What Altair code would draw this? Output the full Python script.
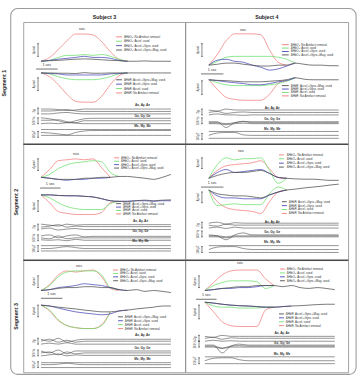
import altair as alt
import pandas as pd

FONT = "Liberation Sans"
N = None

# time grid (seconds)
T = [0.0, 0.4, 0.8, 1.2, 1.6, 2.0, 2.4, 2.8, 3.2, 3.6, 4.0, 4.4, 4.8, 5.2, 5.6, 6.0]

SUBJECTS = ["Subject 3", "Subject 4"]
SEGMENTS = ["Segment 1", "Segment 2", "Segment 3"]
METHODS = ["No Artefact removal", "Accel. used", "Accel.+Gyro. used", "Accel.+Gyro.+Mag. used"]
COLORS = ["#f47878", "#6ade6a", "#4444b8", "#4a4a4a"]
O2_LEG = ["ΔHbO₂: No Artefact removal", "ΔHbO₂: Accel. used",
          "ΔHbO₂: Accel.+Gyro. used", "ΔHbO₂: Accel.+Gyro.+Mag. used"]
HR_LEG = ["ΔHbR: Accel.+Gyro.+Mag. used", "ΔHbR: Accel.+Gyro. used",
          "ΔHbR: Accel. used", "ΔHbR: No Artefact removal"]
HR_LEG_COLOR = [3, 2, 1, 0]
SENSOR_LABELS = ["Ax, Ay, Az", "Gx, Gy, Gz", "Mx, My, Mz"]
SENSOR_UNITS = ["2g", "500°/s", "100µT"]

# ---- ΔHbO2 / ΔHbR (µmol), order: no removal, accel, accel+gyro, accel+gyro+mag
S3_SEG1_HBO2 = [
    [0, 1.3, 4.0, 7.0, 9.3, 9.3, 9.0, 6.7, 3.3, 0.7, 0, N, N, N, N, N],
    [0, 0.3, 1.3, 2.0, 2.0, 2.3, 2.0, 2.3, 1.7, 0.7, 0, N, N, N, N, N],
    [0, 0.3, 0.7, 1.0, 1.3, 1.7, 1.3, 1.3, 1.0, 0.3, 0, N, N, N, N, N],
    [0, 0.2, 0.3, 0.5, 0.7, 0.8, 0.7, 0.5, 0.3, 0.2, 0, 0, 0.1, 0, 0, 0],
]
S3_SEG1_HBR = [
    [0, -1.3, -4.0, -7.3, -9.7, -10.0, -10.0, -8.0, -4.0, -1.0, 0, N, N, N, N, N],
    [0, -0.3, -1.3, -2.0, -2.3, -2.3, -2.3, -2.0, -1.3, -0.3, 0, N, N, N, N, N],
    [0, -0.2, -0.3, -0.7, -0.7, -0.7, -0.7, -0.7, -0.3, -0.2, 0, N, N, N, N, N],
    [0, 0, -0.1, -0.1, -0.2, 0.1, -0.1, -0.1, 0, 0, 0, 0, 0, 0, 0, 0],
]
S4_SEG1_HBO2 = [
    [0, 3.7, 8.3, 10.7, 10.7, 10.7, 10.4, 5.3, 1.0, 0, N, N, N, N, N, N],
    [0, 1.3, 2.7, 3.0, 3.0, 3.0, 3.0, 3.0, 2.7, 2.0, 0.7, N, N, N, N, N],
    [0, 1.7, 2.0, 1.3, 1.0, 0, -0.7, -1.7, -1.3, -0.3, 0.7, N, N, N, N, N],
    [0, 0.3, 0.7, 0.7, 0.3, 0, -0.3, -0.3, 0, 0, 0.7, 0.3, 0, 0, -0.2, -0.2],
]
S4_SEG1_HBR = [
    [0, -3.3, -6.0, -6.7, -7.0, -7.0, -7.0, -5.0, -1.3, 0, N, N, N, N, N, N],
    [0, -1.0, -1.7, -2.0, -2.0, -2.0, -2.0, -1.7, -1.3, -0.5, 0.7, N, N, N, N, N],
    [0, -0.3, -0.7, -1.0, -1.3, -1.7, -1.7, -1.3, -0.7, -0.3, 0.7, N, N, N, N, N],
    [0, -0.2, -0.3, -0.5, -0.7, -0.7, -0.7, -0.5, -0.3, 0, 0.7, 0.2, 0, 0, 0, 0],
]
S3_SEG2_HBO2 = [
    [0, 2.7, 5.7, 6.0, 6.3, 6.0, 6.3, 3.3, 0, N, N, N, N, N, N, N],
    [0, 1.0, 3.0, 4.3, 5.0, 5.3, 5.7, 5.3, 1.7, 0.3, N, N, N, N, N, N],
    [0, -0.3, -0.7, -1.0, -0.7, -0.7, -0.3, -0.3, 0, N, N, N, N, N, N, N],
    [0, -0.3, -0.7, -0.7, -0.7, -0.3, -0.3, 0, 0, 0.3, 0.3, 0, -0.3, -0.7, 0, 1.0],
]
S3_SEG2_HBR = [
    [0, -2.7, -5.7, -6.3, -6.7, -6.7, -6.7, -6.0, -2.7, -2.2, N, N, N, N, N, N],
    [0, -1.0, -2.7, -4.0, -4.7, -5.0, -5.0, -5.0, -3.0, -2.2, N, N, N, N, N, N],
    [0, 0, -0.2, -0.3, -0.3, -0.5, -0.7, -1.3, -2.0, -2.2, -2.2, -2.0, -2.0, -2.2, -2.0, -2.0],
    [0, 0, -0.2, -0.3, -0.3, -0.5, -0.7, -1.3, -2.0, -2.2, -2.2, -2.0, -1.8, -2.0, -1.8, -1.7],
]
S4_SEG2_HBO2 = [
    [0, 2.7, 4.3, 4.7, 5.0, 5.3, 6.0, 3.3, 0.3, 0, N, N, N, N, N, N],
    [0, 4.7, 7.0, 6.3, 6.7, 6.7, 7.0, 2.7, -1.7, 0, N, N, N, N, N, N],
    [0, 2.0, 3.0, 2.0, 2.3, 2.7, 3.0, 1.7, 0.3, 0, N, N, N, N, N, N],
    [0, 1.0, 1.7, 2.0, 2.0, 2.3, 2.7, 1.7, 0.3, 0, -0.2, -0.3, -0.3, -0.5, -0.7, -0.7],
]
S4_SEG2_HBR = [
    [0, -4.0, -6.0, -6.7, -7.0, -7.3, -8.0, -4.0, -0.7, 0, N, N, N, N, N, N],
    [0, -5.3, -5.0, -4.7, -5.0, -5.0, -5.0, -1.3, 1.0, 0, N, N, N, N, N, N],
    [0, -2.0, -2.7, -2.7, -3.0, -3.0, -3.0, -1.7, -0.7, 0, N, N, N, N, N, N],
    [0, -1.3, -1.7, -2.0, -2.0, -2.3, -2.7, -1.7, -0.7, 0, 0.3, 0.7, 1.0, 1.3, 1.7, 2.0],
]
S3_SEG3_HBO2 = [
    [0, 2.0, 5.3, 6.7, 6.3, 6.7, 7.0, 4.7, 0.7, 0, N, N, N, N, N, N],
    [0, 1.7, 4.7, 6.3, 6.7, 6.7, 6.7, 5.3, 1.0, 0.3, N, N, N, N, N, N],
    [0, 0.3, 1.0, 1.3, 1.7, 2.3, 2.0, 1.7, 1.0, 0.3, 0, N, N, N, N, N],
    [0, 0.3, 0.7, 1.0, 1.0, 1.3, 1.3, 1.0, 1.0, 0.3, 0, 0.3, -0.3, 0, -0.3, -0.7],
]
S3_SEG3_HBR = [
    [0, -2.0, -5.3, -7.0, -7.7, -8.0, -8.0, -6.7, -2.3, N, N, N, N, N, N, N],
    [0, -1.7, -5.0, -7.0, -7.7, -8.0, -8.0, -7.0, -2.5, N, N, N, N, N, N, N],
    [0, -0.3, -1.0, -1.7, -2.3, -2.7, -3.0, -3.3, -3.0, -2.0, -1.7, N, N, N, N, N],
    [0, -0.3, -0.7, -1.0, -1.3, -1.7, -2.0, -2.3, -2.3, -2.0, -1.7, -1.3, -1.0, -0.7, -0.3, -0.3],
]
S4_SEG3_HBO2 = [
    [0, 2.7, 5.3, 6.7, 7.0, 7.0, 7.0, 4.0, 1.7, N, N, N, N, N, N, N],
    [0, 1.7, 2.7, 3.3, 3.3, 3.3, 3.0, 0.7, 1.7, N, N, N, N, N, N, N],
    [0, 0.3, 0.7, 0.7, 1.0, 1.0, 1.3, 1.7, 1.7, N, N, N, N, N, N, N],
    [0, 0.3, 0.7, 1.0, 1.3, 1.3, 1.7, 1.7, 1.7, 1.3, 1.7, 1.0, 0.7, 1.0, 0.7, 0.3],
]
S4_SEG3_HBR = [
    [0, -3.3, -6.7, -8.0, -8.3, -8.3, -8.3, -2.7, -1.7, N, N, N, N, N, N, N],
    [0, -1.3, -1.7, -1.7, -2.0, -2.0, -2.0, -1.7, -1.7, N, N, N, N, N, N, N],
    [0, -0.3, -0.7, -1.0, -1.2, -1.3, -1.5, -1.7, -1.7, -1.5, -1.3, N, N, N, N, N],
    [0, -0.3, -0.7, -1.0, -1.2, -1.3, -1.5, -1.7, -1.7, -1.5, -1.3, -1.2, -1.0, -0.8, -0.7, -0.7],
]

# ---- motion sensors (arbitrary units), three axes each
S3_SEG1_ACC = [
    [5, 5, 4.5, 3.5, 4, 5, 5, 5, 5, 5, 5, 5, 5, 5, 5, 5],
    [3, 3, 3.5, 4.5, 3, 2.5, 2.5, 2.5, 2.5, 2.5, 2.5, 2.5, 2.5, 2.5, 2.5, 2.5],
    [0, 0, 1, 1.5, 0.5, 0, 0, 0, 0, 0, 0, 0, 0, 0, 0, 0],
]
S3_SEG1_GYR = [
    [6, 5, 3, 1, 3, 5, 5.5, 5.5, 5.5, 5.5, 5.5, 5.5, 5.5, 5.5, 5.5, 5.5],
    [3.5, 3.5, 4, 2, 1, 3, 3, 3, 3, 3, 3, 3, 3, 3, 3, 3],
    [0, 0.5, 0, 1, 0.5, 0, 0, 0, 0, 0, 0, 0, 0, 0, 0, 0],
]
S3_SEG1_MAG = [
    [8, 8, 8, 8, 8, 8, 8, 8, 8, 8, 8, 8, 8, 8, 8, 8],
    [5, 4.5, 3.5, 2.5, 5, 6.5, 7, 7, 7, 7, 7, 7, 7, 7, 7, 7],
    [2, 2, 2, 2, 2, 2, 2, 2, 2, 2, 2, 2, 2, 2, 2, 2],
]
S4_SEG1_ACC = [
    [5, 4, 6, 5, 5, 5, 5, 5, 5, 5, 5, 5, 5, 5, 5, 5],
    [2.5, 3.5, 1.5, 2.5, 3, 2.5, 2.5, 2.5, 2.5, 2.5, 2.5, 2.5, 2.5, 2.5, 2.5, 2.5],
    [0, 1, 0, 0, -0.5, 0, 0, 0, 0, 0, 0, 0, 0, 0, 0, 0],
]
S4_SEG1_GYR = [
    [2, 2, -4, 1, 2, 2, 2, 2, 2, 2, 2, 2, 2, 2, 2, 2],
    [1, 1, 0, 1, 2.5, 1, 1, 1, 1, 1, 1, 1, 1, 1, 1, 1],
    [0, 0, -1, 0, 0.5, 0, 0, 0, 0, 0, 0, 0, 0, 0, 0, 0],
]
S4_SEG1_MAG = [
    [8, 8, 8, 8, 8, 8, 8, 8, 8, 8, 8, 8, 8, 8, 8, 8],
    [4, 6.5, 7, 7, 4.5, 4, 4, 4, 4, 4, 4, 4, 4, 4, 4, 4],
    [1, 1, 1, 1, 1, 1, 1, 1, 1, 1, 1, 1, 1, 1, 1, 1],
]
S3_SEG2_ACC = [
    [6, 5, 4, 6, 5, 5.5, 5.5, 5.5, 5.5, 5.5, 5.5, 5.5, 5.5, 5.5, 5.5, 5.5],
    [3, 4, 5.5, 3, 4, 3.5, 3.5, 3.5, 3.5, 3.5, 3.5, 3.5, 3.5, 3.5, 3.5, 3.5],
    [1, 2, 0, 1, 1.5, 0.5, 0.5, 0.5, 0.5, 0.5, 0.5, 0.5, 0.5, 0.5, 0.5, 0.5],
]
S3_SEG2_GYR = [
    [5, 6, 3, 5, 6, 4, 4.5, 4.5, 4.5, 4.5, 4.5, 4.5, 4.5, 4.5, 4.5, 4.5],
    [3, 2, 5, 2, 3, 3, 3, 3, 3, 3, 3, 3, 3, 3, 3, 3],
    [1, 0.5, 1, 0, 1.5, 0.5, 0.5, 0.5, 0.5, 0.5, 0.5, 0.5, 0.5, 0.5, 0.5, 0.5],
]
S3_SEG2_MAG = [
    [6, 6, 6, 6, 6, 6, 6, 6, 6, 6, 6, 6, 6, 6, 6, 6],
    [3, 3, 4, 5, 4, 3, 3, 3, 3, 3, 3, 3, 3, 3, 3, 3],
    [0.5, 0.5, 0.5, 0.5, 0.5, 0.5, 0.5, 0.5, 0.5, 0.5, 0.5, 0.5, 0.5, 0.5, 0.5, 0.5],
]
S4_SEG2_ACC = [
    [5, 6, 4, 5.5, 5, 5, 5, 5, 5, 5, 5, 5, 5, 5, 5, 5],
    [3, 2, 4, 3, 3, 3, 3, 3, 3, 3, 3, 3, 3, 3, 3, 3],
    [0, 1, -0.5, 1, 0, 0, 0, 0, 0, 0, 0, 0, 0, 0, 0, 0],
]
S4_SEG2_GYR = [
    [2, 1, -3, 2, 4, 2, 2, 2, 2, 2, 2, 2, 2, 2, 2, 2],
    [1, 1, 0, 1, 1, 1, 1, 1, 1, 1, 1, 1, 1, 1, 1, 1],
    [0, 0, -1, 0, 0, 0, 0, 0, 0, 0, 0, 0, 0, 0, 0, 0],
]
S4_SEG2_MAG = [
    [7, 7, 7, 7, 7, 7, 7, 7, 7, 7, 7, 7, 7, 7, 7, 7],
    [3, 5.5, 6, 6, 4, 3, 3, 3, 3, 3, 3, 3, 3, 3, 3, 3],
    [0, 0, 0, 0, 0, 0, 0, 0, 0, 0, 0, 0, 0, 0, 0, 0],
]
S3_SEG3_ACC = [
    [5, 3, 6, 2, 4, 5, 5, 5, 5, 5, 5, 5, 5, 5, 5, 5],
    [3, 5, 2, 4, 2, 3, 3, 3, 3, 3, 3, 3, 3, 3, 3, 3],
    [0, 1, 0, 1.5, 0, 0, 0, 0, 0, 0, 0, 0, 0, 0, 0, 0],
]
S3_SEG3_GYR = [
    [5, 3, 6, 2, 5, 5, 5, 5, 5, 5, 5, 5, 5, 5, 5, 5],
    [3, 4, 1, 4, 2, 3, 3, 3, 3, 3, 3, 3, 3, 3, 3, 3],
    [0, 1, 2, 0, 1, 0.5, 0.5, 0.5, 0.5, 0.5, 0.5, 0.5, 0.5, 0.5, 0.5, 0.5],
]
S3_SEG3_MAG = [
    [5, 5, 5, 5, 5, 5, 5, 5, 5, 5, 5, 5, 5, 5, 5, 5],
    [3, 3, 3.5, 4.5, 3.5, 3, 3, 3, 3, 3, 3, 3, 3, 3, 3, 3],
    [0, 0, 0, 0, 0, 0, 0, 0, 0, 0, 0, 0, 0, 0, 0, 0],
]
S4_SEG3_ACC = [
    [5, 4, 6, 5, 5, 5, 5, 5, 5, 5, 5, 5, 5, 5, 5, 5],
    [3, 4, 2, 3.5, 3, 3, 3, 3, 3, 3, 3, 3, 3, 3, 3, 3],
    [0, 1, 0, 0.5, 0, 0, 0, 0, 0, 0, 0, 0, 0, 0, 0, 0],
]
S4_SEG3_GYR = [
    [2, 2, -6, 1, 3, 2, 2, 2, 2, 2, 2, 2, 2, 2, 2, 2],
    [1, 1, -1, 1, 1.5, 1, 1, 1, 1, 1, 1, 1, 1, 1, 1, 1],
    [0, 0, -1.5, 0, 0, 0, 0, 0, 0, 0, 0, 0, 0, 0, 0, 0],
]
S4_SEG3_MAG = [
    [7, 7, 7, 7, 7, 7, 7, 7, 7, 7, 7, 7, 7, 7, 7, 7],
    [3, 5.5, 6, 6, 4, 3, 3, 3, 3, 3, 3, 3, 3, 3, 3, 3],
    [0, 0, 0, 0, 0, 0, 0, 0, 0, 0, 0, 0, 0, 0, 0, 0],
]

DATA = {
    (0, 0): (S3_SEG1_HBO2, S3_SEG1_HBR, S3_SEG1_ACC, S3_SEG1_GYR, S3_SEG1_MAG),
    (0, 1): (S4_SEG1_HBO2, S4_SEG1_HBR, S4_SEG1_ACC, S4_SEG1_GYR, S4_SEG1_MAG),
    (1, 0): (S3_SEG2_HBO2, S3_SEG2_HBR, S3_SEG2_ACC, S3_SEG2_GYR, S3_SEG2_MAG),
    (1, 1): (S4_SEG2_HBO2, S4_SEG2_HBR, S4_SEG2_ACC, S4_SEG2_GYR, S4_SEG2_MAG),
    (2, 0): (S3_SEG3_HBO2, S3_SEG3_HBR, S3_SEG3_ACC, S3_SEG3_GYR, S3_SEG3_MAG),
    (2, 1): (S4_SEG3_HBO2, S4_SEG3_HBR, S4_SEG3_ACC, S4_SEG3_GYR, S4_SEG3_MAG),
}

# ---- layout (panel pixels)
PXS = 22.2   # px per second
G = 3.0      # px per µmol
WIDTHS = [166, 167]
HEIGHTS = [125, 119, 115]
FRAME = (-13, 341, -14, 361)   # outer rounded frame, relative to the first panel

LAYOUT = {
    (0, 0): dict(xoff=18, o2=40, hr=52, rois=(60, 7), bx=15, btx=11, o2bar=(22, 35), hrbar=(57, 70),
                 sec=(13, 35, 48, 44), o2leg=(95, 101, 103, [15, 19.5, 24, 28.5]),
                 hrleg=(95, 101, 103, [59, 63.5, 68, 72.5]), labx=122,
                 sens=[(85, 94), (96, 104), (106, 118)]),
    (0, 1): dict(xoff=24, o2=44, hr=59, rois=(59, 8), bx=17, btx=13, o2bar=(22, 35), hrbar=(60, 74),
                 sec=(16, 39, 53, 49), o2leg=(99, 106, 108, [23, 26.5, 30, 33.5]),
                 hrleg=(99, 106, 108, [65, 68.5, 72, 75.5]), labx=89,
                 sens=[(88, 95), (99, 104), (109, 120)]),
    (1, 0): dict(xoff=18, o2=34, hr=52, rois=(54, 10), bx=15, btx=11, o2bar=(15, 27), hrbar=(58, 69),
                 sec=(17, 38, 45, 41), o2leg=(93, 98, 100, [14, 17.5, 21, 24.5]),
                 hrleg=(95, 100, 102, [61, 64.5, 68, 71.5]), labx=120,
                 sens=[(79, 88), (89, 99), (99, 110)]),
    (1, 1): dict(xoff=24, o2=35, hr=47, rois=(57, 7), bx=17, btx=13, o2bar=(14, 25), hrbar=(49, 60),
                 sec=(16, 39, 44, 40), o2leg=(96, 101, 104, [11, 15, 19.5, 23.5]),
                 hrleg=(99, 104, 106, [59, 63, 67, 71]), labx=89,
                 sens=[(80, 86), (90, 95), (100, 111)]),
    (2, 0): dict(xoff=18, o2=31, hr=46, rois=(57, 6), bx=15, btx=11, o2bar=(16, 28), hrbar=(46, 58),
                 sec=(18, 40, 39, 35), o2leg=(92, 97, 99, [10, 13.5, 17, 21]),
                 hrleg=(97, 102, 104, [58, 62, 66, 70]), labx=122,
                 sens=[(77, 86), (90, 98), (101, 110)]),
    (2, 1): dict(xoff=20, o2=31, hr=43, rois=(56, 3), bx=14, btx=10, o2bar=(16, 28), hrbar=(46, 60),
                 sec=(11, 32, 40, 36), o2leg=(97, 102, 104, [9, 13, 17, 21]),
                 hrleg=(96, 101, 103, [55, 59, 63, 67]), labx=99,
                 sens=[(75, 83), (85, 89), (96, 106)]),
}


def panel(r, c):
    L = LAYOUT[(r, c)]
    W, H = WIDTHS[c], HEIGHTS[r]
    xoff = L["xoff"]

    def p2t(px):
        return (px - xoff) / PXS

    X = alt.X("t:Q", scale=alt.Scale(domain=[p2t(0), p2t(W)], nice=False, zero=False), axis=None)
    Y = alt.Y("y:Q", scale=alt.Scale(domain=[0, H], reverse=True, nice=False, zero=False), axis=None)
    hbo2, hbr, acc, gyr, mag = DATA[(r, c)]
    layers = []

    if r == 0 and c == 0:
        fx0, fx1, fy0, fy1 = FRAME
        fr = pd.DataFrame([{"t": p2t(fx0), "t2": p2t(fx1), "y": fy0, "y2": fy1}])
        layers.append(alt.Chart(fr).mark_rect(
            fill=None, fillOpacity=0, stroke="#9c9c9c", strokeWidth=1.1, cornerRadius=7).encode(
            x=X, x2="t2:Q", y=Y, y2="y2:Q"))

    # motion sensor traces
    srows = []
    for gi, grp in enumerate([acc, gyr, mag]):
        base = L["sens"][gi][1]
        for ai, ser in enumerate(grp):
            for k, v in enumerate(ser):
                srows.append({"t": T[k], "y": base - v, "s": f"{gi}-{ai}"})
    layers.append(alt.Chart(pd.DataFrame(srows)).mark_line(
        color="#3a3a3a", strokeWidth=0.55, interpolate="monotone").encode(x=X, y=Y, detail="s:N"))

    # NIRS traces
    for mi in range(4):
        rows = []
        for k, v in enumerate(hbo2[mi]):
            if v is not None:
                rows.append({"t": T[k], "y": L["o2"] - v * G, "s": "o2"})
        for k, v in enumerate(hbr[mi]):
            if v is not None:
                rows.append({"t": T[k], "y": L["hr"] - v * G, "s": "hr"})
        layers.append(alt.Chart(pd.DataFrame(rows)).mark_line(
            color=COLORS[mi], strokeWidth=0.75, interpolate="monotone").encode(x=X, y=Y, detail="s:N"))

    # rules: scale bars, 1 sec bar, legend swatches, row divider
    rules = []
    def rule(x0, x1, y0, y1, col="#333333", w=0.6):
        rules.append({"t": p2t(x0), "t2": p2t(x1), "y": y0, "y2": y1, "col": col, "w": w})
    for (y0, y1) in [L["o2bar"], L["hrbar"]]:
        rule(L["bx"], L["bx"], y0, y1)
        rule(L["bx"] - 1, L["bx"] + 1, y0, y0)
        rule(L["bx"] - 1, L["bx"] + 1, y1, y1)
    for gi in range(3):
        base = L["sens"][gi][1]
        rule(L["bx"], L["bx"], base - 6, base)
        rule(L["bx"] - 1, L["bx"] + 1, base - 6, base - 6)
        rule(L["bx"] - 1, L["bx"] + 1, base, base)
    sx0, sx1, sy, _ = L["sec"]
    rule(sx0, sx1, sy, sy, w=0.7)
    x0, x1, _, ys = L["o2leg"]
    for i in range(4):
        rule(x0, x1, ys[i], ys[i], col=COLORS[i], w=0.9)
    x0, x1, _, ys = L["hrleg"]
    for i in range(4):
        rule(x0, x1, ys[i], ys[i], col=COLORS[HR_LEG_COLOR[i]], w=0.9)
    if r > 0:
        rule(0, W, 0, 0, col="#4a4a4a", w=1.6)
    layers.append(alt.Chart(pd.DataFrame(rules)).mark_rule().encode(
        x=X, x2="t2:Q", y=Y, y2="y2:Q",
        color=alt.Color("col:N", scale=None),
        strokeWidth=alt.StrokeWidth("w:Q", scale=None)))

    # left-aligned legend texts
    lt = []
    _, _, tx, ys = L["o2leg"]
    for i in range(4):
        lt.append({"t": p2t(tx), "y": ys[i], "txt": O2_LEG[i]})
    _, _, tx, ys = L["hrleg"]
    for i in range(4):
        lt.append({"t": p2t(tx), "y": ys[i], "txt": HR_LEG[i]})
    layers.append(alt.Chart(pd.DataFrame(lt)).mark_text(
        align="left", baseline="middle", font=FONT, fontSize=3.0, color="#333333").encode(
        x=X, y=Y, text="txt:N"))

    # centered normal texts
    ct = [{"t": p2t(L["rois"][0]), "y": L["rois"][1], "txt": "rois"},
          {"t": p2t((sx0 + sx1) / 2), "y": L["sec"][3], "txt": "1 sec"}]
    layers.append(alt.Chart(pd.DataFrame(ct)).mark_text(
        align="center", baseline="middle", font=FONT, fontSize=3.8, color="#333333").encode(
        x=X, y=Y, text="txt:N"))

    # bold sensor labels
    bt = [{"t": p2t(L["labx"]), "y": L["sens"][gi][0], "txt": SENSOR_LABELS[gi]} for gi in range(3)]
    layers.append(alt.Chart(pd.DataFrame(bt)).mark_text(
        align="center", baseline="middle", font=FONT, fontSize=3.3, fontWeight="bold",
        color="#333333").encode(x=X, y=Y, text="txt:N"))

    # rotated unit labels
    rt = [{"t": p2t(L["btx"]), "y": sum(L["o2bar"]) / 2, "txt": "4µmol"},
          {"t": p2t(L["btx"]), "y": sum(L["hrbar"]) / 2, "txt": "4µmol"}]
    for gi in range(3):
        base = L["sens"][gi][1]
        rt.append({"t": p2t(L["btx"]), "y": base - 3, "txt": SENSOR_UNITS[gi]})
    layers.append(alt.Chart(pd.DataFrame(rt)).mark_text(
        align="center", baseline="middle", angle=270, font=FONT, fontSize=3.0,
        color="#333333").encode(x=X, y=Y, text="txt:N"))

    if r == 0:
        st = [{"t": p2t(W / 2), "y": -5, "txt": SUBJECTS[c]}]
        layers.append(alt.Chart(pd.DataFrame(st)).mark_text(
            align="center", baseline="middle", font=FONT, fontSize=5.4, fontWeight="bold",
            color="#222222").encode(x=X, y=Y, text="txt:N"))

    ch = alt.layer(*layers).properties(width=W, height=H)
    if c == 0:
        ch = ch.properties(title=alt.Title(SEGMENTS[r], orient="left", frame="group", offset=3,
                                           fontSize=5.4, fontWeight="bold", font=FONT,
                                           color="#222222"))
    return ch


panels = [panel(r, c) for r in range(3) for c in range(2)]
chart = alt.concat(*panels, columns=2, spacing=0, bounds="flush", align="each").properties(
    padding={"left": 1, "top": 3, "right": 2, "bottom": 1}, background="white"
).configure_view(stroke="#8a8a8a", strokeWidth=0.8).configure_concat(spacing=0)

chart.save("out.html", embed_options={"renderer": "svg", "actions": False})
